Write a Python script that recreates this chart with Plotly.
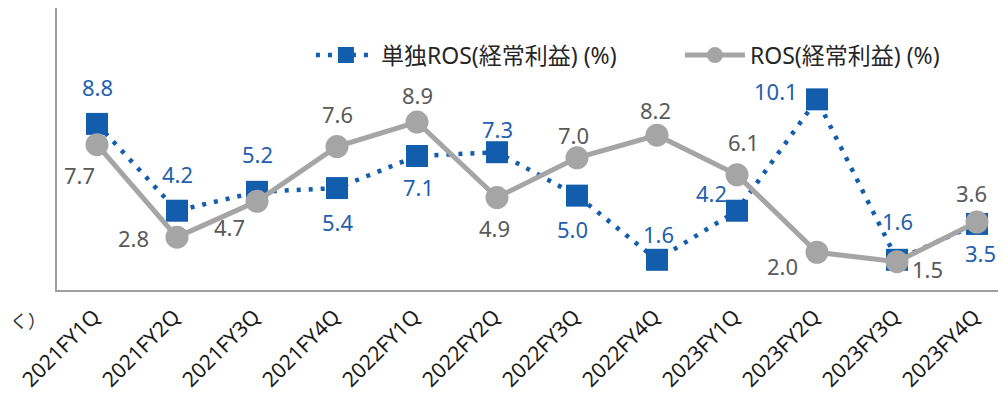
import plotly.graph_objects as go

categories = ["2021FY1Q", "2021FY2Q", "2021FY3Q", "2021FY4Q",
              "2022FY1Q", "2022FY2Q", "2022FY3Q", "2022FY4Q",
              "2023FY1Q", "2023FY2Q", "2023FY3Q", "2023FY4Q"]
ros_single = [8.8, 4.2, 5.2, 5.4, 7.1, 7.3, 5.0, 1.6, 4.2, 10.1, 1.6, 3.5]
ros_total = [7.7, 2.8, 4.7, 7.6, 8.9, 4.9, 7.0, 8.2, 6.1, 2.0, 1.5, 3.6]
name_single = "単独ROS(経常利益) (%)"
name_total = "ROS(経常利益) (%)"

# label offsets in px (dx, dy; dy positive = downward)
off_single = [(0, -37), (0, -37), (0, -38), (0, 34), (1, 31), (0, -23),
              (-5, 33), (1, -26), (-26, -18), (-41, -8), (0, -39), (3, 29)]
off_total = [(-18, 30), (-44, 1), (-28, 26), (0, -33), (0, -27), (-3, 30),
             (-4, -23), (-2, -25), (6, -33), (-35, 14), (30, 7), (-6, -29)]

BLUE = "#135DAD"
BLUE_TXT = "#1F5FAE"
GRAY = "#A5A5A5"
GRAY_TXT = "#595959"
FONT = "Noto Sans, Noto Sans CJK JP"

fig = go.Figure()
fig.add_trace(go.Scatter(
    x=categories, y=ros_single, name=name_single, mode="lines+markers",
    line=dict(color=BLUE, width=4.5, dash="4px,8px"),
    marker=dict(symbol="square", size=22, color=BLUE),
))
fig.add_trace(go.Scatter(
    x=categories, y=ros_total, name=name_total, mode="lines+markers",
    line=dict(color=GRAY, width=5),
    marker=dict(symbol="circle", size=23, color=GRAY),
))

annotations = []
for c, v, (dx, dy) in zip(categories, ros_single, off_single):
    annotations.append(dict(x=c, y=v, xref="x", yref="y", text=f"{v:.1f}",
                            showarrow=False, xshift=dx, yshift=-dy,
                            font=dict(family=FONT, size=22, color=BLUE_TXT)))
for c, v, (dx, dy) in zip(categories, ros_total, off_total):
    annotations.append(dict(x=c, y=v, xref="x", yref="y", text=f"{v:.1f}",
                            showarrow=False, xshift=dx, yshift=-dy,
                            font=dict(family=FONT, size=22, color=GRAY_TXT)))
annotations.append(dict(x=-49 / 949, y=(290 - 321) / 282, xref="paper",
                        yref="paper", text="く）", showarrow=False,
                        xanchor="left", yanchor="middle",
                        font=dict(family=FONT, size=18, color="#333333")))

fig.update_layout(
    width=998, height=392,
    margin=dict(l=49, r=0, t=0, b=110, pad=0, autoexpand=False),
    paper_bgcolor="white", plot_bgcolor="white",
    font=dict(family=FONT, size=20, color="#333333"),
    showlegend=True,
    legend=dict(orientation="h", x=0.2676, y=0.833, xanchor="left",
                yanchor="middle", font=dict(family=FONT, size=23,
                                            color="#262626"),
                itemwidth=60, entrywidth=294, entrywidthmode="pixels",
                bgcolor="rgba(0,0,0,0)"),
    annotations=annotations,
)
fig.update_xaxes(type="category", range=[-0.5, 11.3625], showgrid=False,
                 showline=True, linecolor="#A0A0A0", linewidth=2,
                 ticks="", tickangle=-45, automargin=False,
                 ticklabelshift=-3, ticklabelstandoff=4,
                 tickfont=dict(family=FONT, size=21, color="#1a1a1a"),
                 zeroline=False)
fig.update_yaxes(range=[0, 14.94], showgrid=False, showline=True,
                 linecolor="#A0A0A0", linewidth=2, showticklabels=False,
                 ticks="", zeroline=False, automargin=False)

fig.write_html("out.html")
